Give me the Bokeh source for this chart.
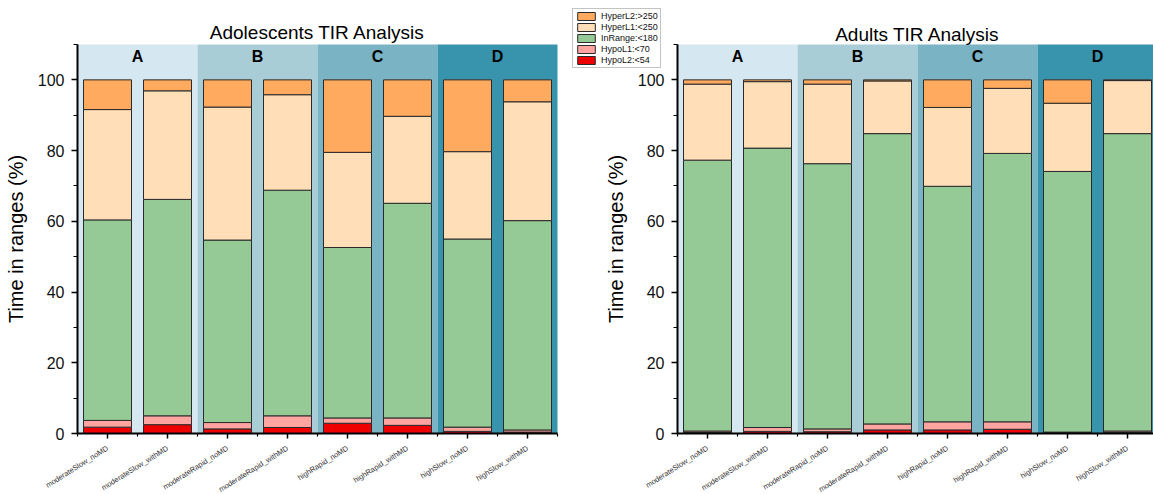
from bokeh.plotting import figure
from bokeh.models import (ColumnDataSource, FixedTicker, Legend, LegendItem, Range1d, Label)
from bokeh.layouts import row
from bokeh.embed import file_html
from bokeh.resources import INLINE
from bokeh.core.properties import value

# ---------------- data ----------------
categories = ["moderateSlow_noMD", "moderateSlow_withMD", "moderateRapid_noMD",
              "moderateRapid_withMD", "highRapid_noMD", "highRapid_withMD",
              "highSlow_noMD", "highSlow_withMD"]
series = ["HypoL2:<54", "HypoL1:<70", "InRange:<180", "HyperL1:<250", "HyperL2:>250"]
series_colors = ["#ee0000", "#ffa4a0", "#95c995", "#ffdeb8", "#ffaa5e"]
groups = ["A", "B", "C", "D"]
group_colors = ["#d5e7f0", "#a9cdd7", "#7ab4c4", "#3893ad"]
y_ticks = [0, 20, 40, 60, 80, 100]
y_minor = [10, 30, 50, 70, 90, 110]

# Adolescents (segment sizes, %)
adol_hypo_l2 = [1.8, 2.5, 1.3, 1.7, 2.9, 2.3, 0.6, 0.4]
adol_hypo_l1 = [1.9, 2.5, 1.8, 3.3, 1.5, 2.1, 1.2, 0.6]
adol_inrange = [56.7, 61.2, 51.6, 63.8, 48.2, 60.7, 53.2, 59.2]
adol_hyper_l1 = [31.2, 30.7, 37.6, 27.0, 26.9, 24.6, 24.7, 33.6]
adol_hyper_l2 = [8.4, 3.1, 7.7, 4.2, 20.5, 10.3, 20.3, 6.2]

# Adults (segment sizes, %)
adult_hypo_l2 = [0.3, 0.6, 0.5, 1.0, 1.0, 1.2, 0.2, 0.3]
adult_hypo_l1 = [0.4, 1.1, 0.8, 1.7, 2.3, 2.1, 0.2, 0.4]
adult_inrange = [76.6, 79.0, 75.0, 82.1, 66.6, 75.9, 73.7, 84.1]
adult_hyper_l1 = [21.5, 18.8, 22.5, 14.9, 22.3, 18.4, 19.3, 15.0]
adult_hyper_l2 = [1.2, 0.5, 1.2, 0.3, 7.8, 2.4, 6.6, 0.2]

FONT = "Liberation Sans"
H = 494             # figure height (frame fills the whole figure)
ZERO_PX = 433       # pixel row of the 0 line
TOP_PX = 44         # pixel row of the 110 line
PX_PER_CAT = 60.0   # horizontal pixels per category
n = len(categories)
px_per_y = (ZERO_PX - TOP_PX) / 110.0
y_start = -(H - ZERO_PX) / px_per_y
y_end = ZERO_PX / px_per_y


def style_axes(p, x_end):
    p.xaxis.fixed_location = 0
    p.xaxis.bounds = (-0.5, min(x_end, n - 0.5))
    p.xaxis.ticker = FixedTicker(ticks=list(range(n)),
                                 minor_ticks=[i - 0.5 for i in range(n + 1)])
    p.xaxis.major_label_overrides = {i: c for i, c in enumerate(categories)}
    p.xaxis.major_label_orientation = 0.56
    p.xaxis.major_label_text_font = FONT
    p.xaxis.major_label_text_font_size = "7.5px"
    p.xaxis.major_label_text_color = "#333333"
    p.xaxis.major_label_standoff = 9
    p.xaxis.axis_line_width = 2
    p.xaxis.axis_line_color = "black"
    p.xaxis.major_tick_out = 5
    p.xaxis.major_tick_in = 0
    p.xaxis.minor_tick_out = 3
    p.xaxis.minor_tick_in = 0
    p.xaxis.major_tick_line_width = 1.5
    p.xaxis.minor_tick_line_width = 1.2

    p.yaxis.fixed_location = -0.5
    p.yaxis.bounds = (0, 110)
    p.yaxis.ticker = FixedTicker(ticks=y_ticks, minor_ticks=y_minor)
    p.yaxis.axis_label = "Time in ranges (%)"
    p.yaxis.axis_label_text_font = FONT
    p.yaxis.axis_label_text_font_size = "20px"
    p.yaxis.axis_label_text_font_style = "normal"
    p.yaxis.axis_label_text_color = "black"
    p.yaxis.axis_label_standoff = 8
    p.yaxis.major_label_text_font = FONT
    p.yaxis.major_label_text_font_size = "16px"
    p.yaxis.major_label_text_color = "#111111"
    p.yaxis.major_label_standoff = 7
    p.yaxis.axis_line_width = 2
    p.yaxis.axis_line_color = "black"
    p.yaxis.major_tick_out = 6
    p.yaxis.major_tick_in = 0
    p.yaxis.minor_tick_out = 4
    p.yaxis.minor_tick_in = 0
    p.yaxis.major_tick_line_width = 1.5
    p.yaxis.minor_tick_line_width = 1.2


def make_panel(width, axis_gap, vals, title, title_y):
    x_start = -0.5 - axis_gap / PX_PER_CAT
    x_end = x_start + width / PX_PER_CAT
    p = figure(width=width, height=H, output_backend="svg", toolbar_location=None,
               x_range=Range1d(x_start, x_end), y_range=Range1d(y_start, y_end),
               min_border_left=0, min_border_right=0,
               min_border_top=0, min_border_bottom=0)
    p.outline_line_color = None
    p.xgrid.visible = False
    p.ygrid.visible = False
    p.background_fill_color = "white"
    p.border_fill_color = "white"

    data = {"x": list(range(n))}
    for s, v in zip(series, vals):
        data[s] = v
    src = ColumnDataSource(data)
    lefts = [2 * i - 0.5 for i in range(len(groups))]
    rights = [2 * i + 1.5 for i in range(len(groups))]
    p.quad(left=lefts, right=rights, bottom=0, top=110, color=group_colors, line_color=None)
    centers = [2 * i + 0.5 for i in range(len(groups))]
    p.text(x=centers, y=[106.6] * len(groups), text=groups, text_font=value(FONT),
           text_font_size="16px", text_font_style="bold", text_align="center",
           text_baseline="middle", text_color="black")
    rs = p.vbar_stack(series, x="x", width=0.8, source=src, color=series_colors,
                      line_color="#2a2a2a", line_width=1)
    p.add_layout(Label(x=(n - 1) / 2, y=title_y, text=title, text_font=FONT,
                       text_font_size="19px", text_align="center", text_baseline="middle",
                       text_color="black"))
    style_axes(p, x_end)
    return p, rs


p1, rs1 = make_panel(570, 77, [adol_hypo_l2, adol_hypo_l1, adol_inrange, adol_hyper_l1, adol_hyper_l2],
                     "Adolescents TIR Analysis", 113.4)
p2, rs2 = make_panel(583, 107, [adult_hypo_l2, adult_hypo_l1, adult_inrange, adult_hyper_l1, adult_hyper_l2],
                     "Adults TIR Analysis", 112.8)

items = [LegendItem(label=series[i], renderers=[rs2[i]]) for i in reversed(range(len(series)))]
leg = Legend(items=items, location=(2, H - 68))
leg.label_text_font = FONT
leg.label_text_font_size = "9px"
leg.label_text_color = "#111111"
leg.glyph_width = 22
leg.glyph_height = 10
leg.label_height = 10
leg.label_standoff = 4
leg.spacing = 1
leg.padding = 2
leg.margin = 0
leg.border_line_color = "#888888"
leg.border_line_width = 1
leg.background_fill_color = "white"
leg.background_fill_alpha = 1
p2.add_layout(leg)

layout = row(p1, p2)
open("out.html", "w").write(file_html(layout, INLINE))
